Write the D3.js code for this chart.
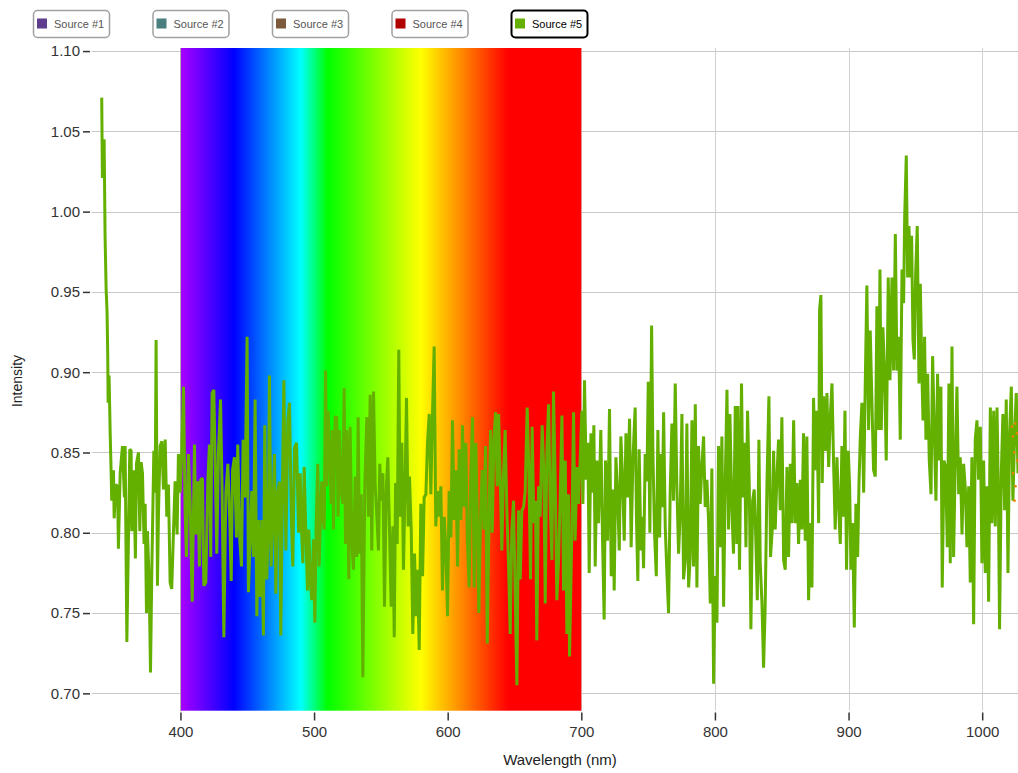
<!DOCTYPE html>
<html>
<head>
<meta charset="utf-8">
<script src="https://cdn.jsdelivr.net/npm/d3@7"></script>
<style>
  html, body { margin: 0; padding: 0; background: #fff; }
  svg { display: block; font-family: "Liberation Sans", Arial, sans-serif; }
</style>
</head>
<body>
<svg id="chart" width="1018" height="773"></svg>
<script>
// ---------------- data ----------------
const legendLabels = ["Source #1", "Source #2", "Source #3", "Source #4", "Source #5"];
const legendColors = ["#5e3c8e", "#4a7f7f", "#7d5a3a", "#b00000", "#63b000"];
const activeSource = "Source #5";

const xTicks = [400, 500, 600, 700, 800, 900, 1000];
const yTicks = [0.70, 0.75, 0.80, 0.85, 0.90, 0.95, 1.00, 1.05, 1.10];

const spectrumStops = [400, 440, 490, 510, 580, 645, 700];
const spectrumColors = ["#aa00ff", "#0000ff", "#00ffff", "#00ff00", "#ffff00", "#ff0000", "#ff0000"];

const wavelengths = [
341.1,341.6,342.9,343.6,344.4,345.1,345.6,345.9,346.6,347.4,348.1,348.6,349.9,350.4,351.6,352.9,353.6,354.9,356.6,358.1,
358.6,359.9,361.1,362.1,363.1,363.6,365.1,366.3,367.1,368.6,369.6,370.6,371.6,372.8,373.6,374.6,375.3,376.6,377.6,378.6,
380.1,381.1,381.8,382.8,383.6,384.8,386.1,387.3,388.6,389.8,391.0,392.3,393.5,394.8,396.0,397.5,398.5,399.8,401.0,402.3,
403.5,404.5,406.0,407.3,408.8,410.5,411.5,413.0,414.2,415.2,416.5,417.5,419.0,420.5,421.7,422.7,423.7,425.0,426.0,427.2,
428.5,430.0,431.2,432.5,434.0,435.5,437.0,438.0,439.0,440.4,441.9,442.9,444.4,445.7,446.9,448.4,449.9,450.9,
453.4,454.7,455.9,457.2,458.4,459.7,460.9,462.1,463.1,464.6,465.9,466.6,467.9,469.1,470.4,471.4,472.6,474.1,475.1,476.4,
477.4,478.9,480.4,481.6,483.1,484.1,485.4,486.9,488.4,489.6,490.6,491.6,492.6,493.8,495.1,496.1,497.1,498.3,499.6,500.6,
501.6,502.8,503.8,504.8,505.8,506.6,507.6,508.6,509.6,510.6,511.8,512.8,513.8,514.5,515.8,517.0,518.0,519.0,520.3,521.5,
522.5,523.5,524.5,526.0,527.0,528.3,529.5,530.8,532.0,533.0,534.0,535.3,536.5,538.0,539.5,540.7,542.0,543.2,544.5,545.7,
547.0,548.2,549.2,550.2,551.5,552.7,554.0,555.2,556.5,557.7,559.0,560.0,561.0,562.2,563.4,564.4,565.7,566.9,568.2,569.2,
570.4,571.4,
572.7,573.9,575.2,576.4,577.4,578.7,579.9,581.2,582.4,583.7,584.9,586.2,587.4,588.4,589.9,591.1,592.4,593.6,594.9,596.1,
597.4,598.6,599.9,601.1,602.4,603.6,604.9,606.1,607.4,608.6,609.9,611.1,612.4,613.6,614.8,616.1,617.3,618.6,619.8,621.1,
622.3,623.3,624.6,625.8,627.1,628.3,629.6,630.8,632.1,633.3,634.6,635.8,637.1,638.1,639.3,640.5,641.8,643.0,644.3,645.5,
646.8,648.0,649.3,650.5,651.8,653.0,654.3,655.5,656.8,658.0,659.5,660.8,662.0,663.2,664.5,665.7,666.7,668.0,669.2,670.7,
672.0,673.0,674.2,675.5,676.7,678.0,679.2,680.5,681.7,683.0,684.2,685.5,686.7,688.0,689.2,690.4,691.2,
692.9,694.2,695.4,696.7,697.9,699.2,700.4,701.2,702.4,703.7,704.9,705.9,707.2,708.4,709.4,710.4,711.7,712.9,714.6,715.9,
717.1,718.1,719.6,721.1,722.4,723.6,724.6,725.9,727.1,728.4,729.6,730.9,732.1,733.4,734.6,736.1,737.3,738.6,740.3,741.3,
742.3,743.3,744.6,745.6,746.6,747.8,749.1,750.1,751.3,752.6,753.6,754.8,756.1,757.3,758.6,759.6,760.6,761.6,762.8,764.1,
765.3,766.5,767.8,769.0,770.3,771.5,772.8,774.0,775.3,776.5,777.8,779.0,780.3,781.5,782.8,784.0,785.3,786.5,787.7,789.0,
790.2,791.5,792.7,794.0,795.2,796.5,797.7,799.0,800.2,801.5,802.7,804.0,805.2,806.5,807.7,809.0,810.2,811.2,
812.7,813.9,815.2,816.4,817.2,818.4,819.9,820.9,822.2,823.2,824.4,825.7,826.9,828.2,829.4,830.7,831.7,832.9,833.9,835.2,
836.4,837.6,838.9,840.4,841.6,842.9,843.9,845.1,846.4,847.6,848.9,850.1,851.4,852.6,853.9,855.1,856.4,857.6,858.9,860.1,
861.4,862.6,863.9,865.1,866.3,867.6,868.8,870.1,871.3,872.6,873.8,875.1,876.3,877.6,878.3,879.3,880.3,881.3,882.6,883.8,
885.1,886.3,887.6,888.8,890.0,891.3,892.5,893.8,895.0,896.3,897.3,898.5,899.8,900.8,901.8,903.0,904.3,905.5,906.8,907.8,
908.8,910.0,911.3,912.5,913.7,915.0,916.2,917.5,918.7,920.0,921.2,922.5,923.5,
924.5,925.7,927.0,928.2,929.7,931.0,932.5,933.7,935.0,936.2,937.5,938.7,940.0,941.2,942.0,943.2,944.2,945.2,946.2,947.2,
948.2,949.2,950.2,951.4,952.7,953.7,954.9,955.7,956.9,957.9,959.2,960.4,961.7,962.9,964.2,965.4,966.6,967.9,969.1,970.1,
971.4,972.6,973.9,975.1,976.1,977.4,978.6,979.9,981.1,982.4,983.6,984.9,986.1,987.4,988.6,989.9,991.1,992.3,993.6,994.8,
996.1,997.3,998.6,999.8,1001.1,1002.3,1003.6,1004.8,1006.1,1007.3,1008.6,1009.8,1011.1,1012.1,1013.0,1014.3,1015.5,1016.8,1018.0,1019.3,
1020.5,1021.8,1023.0,1024.3,1025.5,1026.8
];

const intensities = [
1.071,1.021,1.045,0.985,0.952,0.937,0.911,0.881,0.898,0.863,0.839,0.820,0.839,0.809,0.830,0.829,0.790,0.837,0.854,0.822,
0.854,0.732,0.796,0.852,0.851,0.801,0.839,0.784,0.843,0.850,0.801,0.844,0.837,0.793,0.818,0.750,0.801,0.770,0.713,0.777,
0.851,0.825,0.920,0.767,0.813,0.854,0.857,0.827,0.858,0.810,0.830,0.769,0.765,0.801,0.832,0.799,0.849,0.825,0.851,0.891,
0.813,0.785,0.849,0.818,0.757,0.855,0.799,0.832,0.779,0.833,0.834,0.767,0.769,0.832,0.855,0.785,0.887,0.889,0.842,0.787,
0.851,0.883,0.825,0.735,0.825,0.843,0.805,0.770,0.839,0.847,0.797,0.855,0.796,0.779,0.858,0.822,0.922,0.763,
0.826,0.785,0.883,0.748,0.808,0.760,0.808,0.736,0.867,0.771,0.808,0.898,0.779,0.810,0.849,0.762,0.824,0.832,0.736,0.833,
0.895,0.789,0.870,0.881,0.806,0.779,0.853,0.856,0.800,0.837,0.802,0.781,0.841,0.802,0.764,0.802,0.771,0.758,0.796,0.744,
0.804,0.843,0.779,0.810,0.832,0.810,0.802,0.901,0.829,0.876,0.847,0.818,0.864,0.802,0.872,0.872,0.810,0.864,0.826,0.818,
0.890,0.793,0.864,0.771,0.866,0.793,0.777,0.835,0.785,0.872,0.787,0.824,0.710,0.831,0.872,0.810,0.886,0.789,0.888,0.831,
0.810,0.789,0.843,0.820,0.837,0.754,0.826,0.847,0.800,0.754,0.804,0.735,0.831,0.793,0.914,0.810,0.856,0.777,0.835,0.884,
0.804,0.835,
0.802,0.737,0.787,0.748,0.777,0.727,0.818,0.773,0.822,0.824,0.856,0.874,0.824,0.866,0.916,0.804,0.826,0.810,0.829,0.764,
0.810,0.791,0.748,0.826,0.797,0.870,0.808,0.839,0.779,0.852,0.808,0.867,0.816,0.856,0.793,0.766,0.837,0.872,0.766,0.856,
0.802,0.750,0.810,0.839,0.802,0.854,0.731,0.802,0.864,0.800,0.858,0.875,0.829,0.874,0.835,0.789,0.837,0.864,0.814,0.781,
0.737,0.802,0.820,0.762,0.705,0.814,0.771,0.814,0.816,0.826,0.878,0.837,0.771,0.866,0.806,0.820,0.733,0.829,0.810,0.867,
0.837,0.756,0.849,0.880,0.818,0.783,0.888,0.831,0.758,0.783,0.822,0.873,0.764,0.845,0.737,0.824,0.723,
0.800,0.875,0.795,0.841,0.818,0.847,0.876,0.818,0.895,0.833,0.856,0.775,0.862,0.825,0.867,0.779,0.845,0.806,0.864,0.795,
0.746,0.845,0.795,0.877,0.773,0.827,0.764,0.847,0.825,0.789,0.860,0.833,0.795,0.862,0.822,0.871,0.791,0.845,0.878,0.808,
0.770,0.852,0.789,0.810,0.778,0.849,0.832,0.894,0.800,0.929,0.849,0.800,0.773,0.864,0.797,0.849,0.816,0.875,0.804,0.774,
0.750,0.825,0.868,0.820,0.893,0.829,0.787,0.812,0.874,0.771,0.783,0.868,0.766,0.785,0.870,0.779,0.880,0.766,0.854,0.818,
0.841,0.860,0.816,0.833,0.808,0.756,0.840,0.706,0.773,0.744,0.854,0.791,0.860,0.754,0.830,0.889,0.802,0.874,
0.814,0.787,0.879,0.793,0.879,0.777,0.893,0.822,0.856,0.791,0.876,0.829,0.740,0.820,0.827,0.793,0.758,0.858,0.781,0.756,
0.716,0.754,0.829,0.885,0.785,0.802,0.851,0.802,0.835,0.858,0.814,0.872,0.783,0.777,0.841,0.785,0.843,0.806,0.870,0.806,
0.831,0.793,0.833,0.802,0.862,0.795,0.860,0.758,0.806,0.766,0.884,0.839,0.876,0.806,0.939,0.948,0.831,0.885,0.851,0.887,
0.841,0.872,0.893,0.843,0.802,0.847,0.818,0.793,0.854,0.810,0.876,0.777,0.851,0.829,0.777,0.806,0.741,0.818,0.785,0.831,
0.860,0.881,0.825,0.893,0.954,0.864,0.926,0.881,0.839,0.835,0.941,0.864,0.964,
0.864,0.928,0.899,0.845,0.959,0.895,0.959,0.901,0.986,0.901,0.922,0.858,0.964,0.943,0.997,1.035,0.959,0.991,0.959,0.985,
0.920,0.908,0.961,0.991,0.893,0.955,0.899,0.870,0.922,0.858,0.899,0.845,0.824,0.910,0.862,0.820,0.899,0.845,0.891,0.766,
0.845,0.841,0.791,0.893,0.781,0.916,0.785,0.847,0.891,0.824,0.847,0.799,0.843,0.827,0.791,0.829,0.769,0.847,0.743,0.858,
0.870,0.833,0.866,0.781,0.845,0.775,0.829,0.757,0.878,0.806,0.876,0.804,0.878,0.824,0.740,0.837,0.874,0.814,0.883,0.775,
0.862,0.891,0.820,0.862,0.887,0.837
];

// small orange markers visible at the right edge of the plot
const edgeWavelengths = [1022.3, 1023.0, 1024.0, 1024.8, 1026.0, 1023.2, 1025.0, 1024.2, 1026.2];
const edgeIntensities = [0.866, 0.860, 0.850, 0.868, 0.862, 0.837, 0.829, 0.820, 0.845];

// ---------------- layout ----------------
const svg = d3.select("#chart");
const plot = { left: 91.7, right: 1018, top: 48, bottom: 710.7 };

const x = d3.scaleLinear().domain([333.6, 1026.8]).range([plot.left, plot.right]);
const y = d3.scaleLinear().domain([0.6892, 1.1019]).range([plot.bottom, plot.top]);

const defs = svg.append("defs");
defs.append("clipPath").attr("id", "clip")
  .append("rect")
  .attr("x", plot.left).attr("y", plot.top)
  .attr("width", plot.right - plot.left).attr("height", plot.bottom - plot.top);

const grad = defs.append("linearGradient").attr("id", "spectrum")
  .attr("gradientUnits", "userSpaceOnUse")
  .attr("x1", x(spectrumStops[0])).attr("x2", x(spectrumStops[spectrumStops.length - 1]))
  .attr("y1", 0).attr("y2", 0);
const s0 = spectrumStops[0], s1 = spectrumStops[spectrumStops.length - 1];
spectrumStops.forEach((s, i) => {
  grad.append("stop").attr("offset", (s - s0) / (s1 - s0)).attr("stop-color", spectrumColors[i]);
});

// gridlines
const grid = svg.append("g");
grid.selectAll("line.h").data(yTicks).join("line")
  .attr("x1", plot.left).attr("x2", plot.right)
  .attr("y1", d => Math.round(y(d)) + 0.5).attr("y2", d => Math.round(y(d)) + 0.5)
  .attr("stroke", "#c8c8c8").attr("stroke-width", 1);
grid.selectAll("line.v").data(xTicks).join("line")
  .attr("y1", plot.top).attr("y2", plot.bottom)
  .attr("x1", d => Math.round(x(d)) + 0.5).attr("x2", d => Math.round(x(d)) + 0.5)
  .attr("stroke", "#d0d0d0").attr("stroke-width", 1);

// spectrum band
svg.append("rect")
  .attr("x", x(s0)).attr("y", plot.top)
  .attr("width", x(s1) - x(s0)).attr("height", plot.bottom - plot.top)
  .attr("fill", "url(#spectrum)");
svg.append("line")
  .attr("x1", Math.round(x(s0)) + 0.5).attr("x2", Math.round(x(s0)) + 0.5)
  .attr("y1", plot.top).attr("y2", plot.bottom)
  .attr("stroke", "#b0b0b0").attr("stroke-width", 1);

// axes
const yAxis = d3.axisLeft(y).tickValues(yTicks).tickFormat(d3.format(".2f")).tickSize(7).tickPadding(3);
const gy = svg.append("g").attr("transform", "translate(90,0)").call(yAxis);
gy.select(".domain").remove();
gy.selectAll(".tick line").attr("stroke", "#333").attr("stroke-width", 1.5);
gy.selectAll(".tick text").attr("font-size", 15).attr("fill", "#333")
  .attr("font-family", "'Liberation Sans', Arial, sans-serif");

const xAxis = d3.axisBottom(x).tickValues(xTicks).tickFormat(d3.format("d")).tickSize(8).tickPadding(6);
const gx = svg.append("g").attr("transform", "translate(0,712.5)").call(xAxis);
gx.select(".domain").remove();
gx.selectAll(".tick line").attr("stroke", "#333").attr("stroke-width", 1.5);
gx.selectAll(".tick text").attr("font-size", 15).attr("fill", "#333")
  .attr("font-family", "'Liberation Sans', Arial, sans-serif");

svg.append("text")
  .attr("x", 560).attr("y", 765)
  .attr("text-anchor", "middle")
  .attr("font-size", 15).attr("fill", "#222")
  .text("Wavelength (nm)");
svg.append("text")
  .attr("transform", "translate(22,381) rotate(-90)")
  .attr("text-anchor", "middle")
  .attr("font-size", 14).attr("fill", "#222")
  .text("Intensity");

// series
const series = wavelengths.map((w, i) => ({ w, v: intensities[i] }));
const line = d3.line().x(d => x(d.w)).y(d => y(d.v));
const clipped = svg.append("g").attr("clip-path", "url(#clip)");
clipped.append("path")
  .datum(series)
  .attr("fill", "none")
  .attr("stroke", legendColors[4])
  .attr("stroke-width", 3)
  .attr("stroke-linejoin", "miter")
  .attr("stroke-miterlimit", 2)
  .attr("d", line);

clipped.selectAll("circle.edge")
  .data(edgeWavelengths.map((w, i) => ({ w, v: edgeIntensities[i] })))
  .join("circle")
  .attr("cx", d => x(d.w)).attr("cy", d => y(d.v)).attr("r", 1.3)
  .attr("fill", "#f08000");

// legend
const legend = svg.append("g");
const items = legend.selectAll("g").data(legendLabels).join("g")
  .attr("transform", (d, i) => `translate(${33 + i * 119.5},10)`);
items.append("rect")
  .attr("x", 0.5).attr("y", 0.5).attr("width", 76).attr("height", 27).attr("rx", 4)
  .attr("fill", "#fff")
  .attr("stroke", d => d === activeSource ? "#000" : "#a0a0a0")
  .attr("stroke-width", d => d === activeSource ? 2 : 1.5);
items.append("rect")
  .attr("x", 4).attr("y", 8.5).attr("width", 10).attr("height", 10)
  .attr("fill", (d, i) => legendColors[i]);
items.append("text")
  .attr("x", 21).attr("y", 17.5)
  .attr("font-size", 11)
  .attr("fill", d => d === activeSource ? "#000" : "#555")
  .text(d => d);
</script>
</body>
</html>
